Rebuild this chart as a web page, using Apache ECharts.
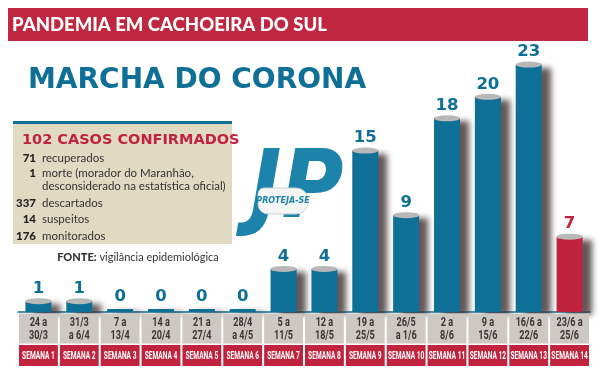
<!DOCTYPE html>
<html>
<head>
<meta charset="utf-8">
<script src="https://cdn.jsdelivr.net/npm/echarts@6/dist/echarts.min.js"></script>
<style>html,body{margin:0;padding:0;background:#fff}#c{width:600px;height:372px}</style>
</head>
<body>
<div id="c"></div>
<script>
const dateLabels = ['24 a\n30/3','31/3\na 6/4','7 a\n13/4','14 a\n20/4','21 a\n27/4','28/4\na 4/5','5 a\n11/5','12 a\n18/5','19 a\n25/5','26/5\na 1/6','2 a\n8/6','9 a\n15/6','16/6 a\n22/6','23/6 a\n25/6'];
const weekLabels = ['SEMANA 1','SEMANA 2','SEMANA 3','SEMANA 4','SEMANA 5','SEMANA 6','SEMANA 7','SEMANA 8','SEMANA 9','SEMANA 10','SEMANA 11','SEMANA 12','SEMANA 13','SEMANA 14'];
const cases = [1,1,0,0,0,0,4,4,15,9,18,20,23,7];
const highlightWeek = 'SEMANA 14';
const headerText = 'PANDEMIA EM CACHOEIRA DO SUL';
const titleText = 'MARCHA DO CORONA';
const boxTitle = '102 CASOS CONFIRMADOS';
const infoNums = ['71','1','','337','14','176'];
const infoTexts = ['recuperados','morte (morador do Maranhão,','desconsiderado na estatística oficial)','descartados','suspeitos','monitorados'];
const sourceText = 'vigilância epidemiológica';

const BLUE = '#0e6f97', RED = '#c0233d';
const infoY = [158,173,186,203,219,236];

const chart = echarts.init(document.getElementById('c'), null, {renderer:'canvas'});
const graphics = [
  {type:'rect', shape:{x:8,y:8,width:580,height:33}, style:{fill:'#bf2740'}},
  {type:'text', x:12, y:25, style:{text:headerText, font:'900 18.5px Lato', fill:'#fff', verticalAlign:'middle'}},
  {type:'text', x:28, y:81, style:{text:titleText, font:'bold 28px "DejaVu Sans"', fill:BLUE, verticalAlign:'middle'}},
  {type:'rect', shape:{x:13,y:121,width:219,height:123}, style:{fill:'#e1dac2'}},
  {type:'rect', shape:{x:13,y:121,width:219,height:3}, style:{fill:BLUE}},
  {type:'text', x:22, y:140, style:{text:boxTitle, font:'bold 14.5px "DejaVu Sans"', fill:RED, verticalAlign:'middle'}},
  {type:'text', x:138, y:257, style:{text:'{b|FONTE:} ' + sourceText, font:'11px Lato', fill:'#333', align:'center', verticalAlign:'middle', rich:{b:{fontWeight:900, fontSize:11, fontFamily:'Lato', fill:'#333'}}}},
  // JP logo
  {type:'text', x:250, y:193, scaleX:0.9, style:{text:'JP', font:'italic bold 94px "DejaVu Sans"', fill:'#1c84ab', verticalAlign:'middle'}},
  {type:'rect', shape:{x:258,y:188,width:50,height:26,r:[6,12,12,10]}, style:{fill:'#f4f6f6', stroke:'#c9cfd3', lineWidth:1}},
  {type:'text', x:283, y:201, style:{text:'PROTEJA-SE', font:'italic bold 8px "DejaVu Sans"', fill:'#1c84ab', align:'center', verticalAlign:'middle'}}
];
infoTexts.forEach((t,i)=>{
  if (infoNums[i]) graphics.push({type:'text', x:36, y:infoY[i], style:{text:infoNums[i], font:'900 11.5px Lato', fill:'#222', align:'right', verticalAlign:'middle'}});
  graphics.push({type:'text', x:42, y:infoY[i], style:{text:t, font:'11.5px Lato', fill:'#333', verticalAlign:'middle'}});
});

const colorFor = i => weekLabels[i] === highlightWeek ? RED : BLUE;

function renderLabelBox(params, api) {
  const i = api.value(0);
  const p = api.coord([i, 0]);
  const w = api.size([1, 0])[0] - 2;
  return {type:'group', children:[
    {type:'rect', shape:{x:p[0]-w/2, y:p[1]+1.5, width:w, height:30}, style:{fill:'#cdc8c4'}},
    {type:'text', x:p[0], y:p[1]+17, scaleX:0.7, style:{text:dateLabels[i], font:'bold 13px Roboto', lineHeight:12.5, fill:'#3b3535', align:'center', verticalAlign:'middle'}},
    {type:'rect', shape:{x:p[0]-w/2, y:p[1]+33, width:w, height:21}, style:{fill:RED}},
    {type:'text', x:p[0], y:p[1]+44, scaleX:0.6, style:{text:weekLabels[i], font:'bold 11px Roboto', fill:'#fff', align:'center', verticalAlign:'middle'}}
  ]};
}

chart.setOption({
  animation:false,
  backgroundColor:'#fff',
  graphic:graphics,
  grid:{left:18,right:10,top:43,bottom:60},
  xAxis:{type:'category', data:weekLabels,
     axisLine:{show:true, lineStyle:{color:BLUE, width:1.5}}, axisTick:{show:false}, axisLabel:{show:false}},
  yAxis:{type:'value', min:0, max:25, show:false},
  series:[
    {type:'bar', barWidth:26, barMinHeight:3, z:3,
     data:cases.map((v,i)=>({value:v, itemStyle:{color:colorFor(i)}, label:{color:colorFor(i)}})),
     itemStyle:{shadowColor:'rgba(60,45,45,0.8)', shadowOffsetX:9, shadowOffsetY:3, shadowBlur:6},
     label:{show:true, position:'top', distance:4, fontSize:16.5, fontWeight:'bold', fontFamily:'"DejaVu Sans"'}},
    {type:'pictorialBar', symbol:'circle', symbolSize:[26,6], symbolPosition:'end', symbolOffset:[0,'-50%'], z:4,
     itemStyle:{color:'#b8b8b8'}, silent:true,
     data:cases.map(v=> v > 0 ? v : '-')},
    {type:'custom', renderItem:renderLabelBox, silent:true, clip:false, z:5,
     data:weekLabels.map((w,i)=>[i])}
  ]
});
</script>
</body>
</html>
